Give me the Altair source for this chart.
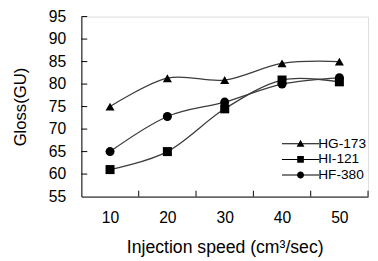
import altair as alt
import pandas as pd

speeds = [10, 20, 30, 40, 50]
series_names = ["HG-173", "HI-121", "HF-380"]
hg173 = [75, 81.3, 80.9, 84.6, 85]
hi121 = [61, 65, 74.5, 80.9, 80.5]
hf380 = [65, 72.8, 76, 80, 81.4]
y_ticks = [60, 65, 70, 75, 80, 85, 90, 95]
x_ticks = [15, 25, 35, 45, 55]

rows = []
for name, vals in zip(series_names, [hg173, hi121, hf380]):
    for s, v in zip(speeds, vals):
        rows.append({"speed": s, "gloss": v, "series": name, "legend": name})
df = pd.DataFrame(rows)

FONT = "Liberation Sans"
xscale = alt.Scale(domain=[5, 55], nice=False, zero=False)
yscale = alt.Scale(domain=[55, 95], nice=False, zero=False)

x_axis = alt.Axis(values=speeds, ticks=False, grid=False, domainColor="black",
                  labelFontSize=16, labelFont=FONT, labelColor="black", labelPadding=13,
                  labelOverlap=False,
                  title="Injection speed (cm³/sec)", titleFontSize=18, titleFont=FONT,
                  titleFontWeight="normal", titleColor="black", titlePadding=14)
y_axis = alt.Axis(values=[55] + y_ticks, ticks=False, grid=False, domainColor="black",
                  labelFontSize=16, labelFont=FONT, labelColor="black", labelPadding=16,
                  labelOverlap=False,
                  title="Gloss(GU)", titleFontSize=17, titleFont=FONT,
                  titleFontWeight="normal", titleColor="black", titlePadding=19)

lines = alt.Chart(df).mark_line(interpolate="cardinal", color="#3c3c3c", strokeWidth=1.3).encode(
    x=alt.X("speed:Q", scale=xscale, axis=x_axis),
    y=alt.Y("gloss:Q", scale=yscale, axis=y_axis),
    detail="series:N")

points = alt.Chart(df).mark_point(filled=True, color="black", opacity=1, size=85).encode(
    x=alt.X("speed:Q", scale=xscale, axis=x_axis),
    y=alt.Y("gloss:Q", scale=yscale, axis=y_axis),
    shape=alt.Shape("series:N", scale=alt.Scale(domain=series_names,
                                                range=["triangle-up", "square", "circle"]),
                    legend=None))

rect = "M-4.75,-0.13 L4.75,-0.13 L4.75,0.13 L-4.75,0.13 Z "
leg_paths = [
    rect + "M0,-1 L1,0.75 L-1,0.75 Z",
    rect + "M-0.85,-0.85 L0.85,-0.85 L0.85,0.85 L-0.85,0.85 Z",
    rect + "M-0.9,0 A0.9,0.9 0 1 1 0.9,0 A0.9,0.9 0 1 1 -0.9,0 Z",
]
legend_layer = alt.Chart(df).mark_point(filled=True, color="black", opacity=0, size=64).encode(
    x=alt.X("speed:Q", scale=xscale, axis=x_axis),
    y=alt.Y("gloss:Q", scale=yscale, axis=y_axis),
    shape=alt.Shape("legend:N", scale=alt.Scale(domain=series_names, range=leg_paths),
                    legend=alt.Legend(title=None, orient="none", legendX=217, legendY=123,
                                      symbolSize=64, symbolFillColor="black", symbolOpacity=1,
                                      labelFont=FONT, labelFontSize=14, labelColor="black",
                                      labelOffset=11, rowPadding=2)))

ytick_df = pd.DataFrame({"v": y_ticks})
ytick_layer = alt.Chart(ytick_df).mark_rule(color="black", strokeWidth=1).encode(
    y=alt.Y("v:Q", scale=yscale, axis=y_axis), x=alt.value(0), x2=alt.value(6))
xtick_df = pd.DataFrame({"v": x_ticks})
xtick_layer = alt.Chart(xtick_df).mark_rule(color="black", strokeWidth=1).encode(
    x=alt.X("v:Q", scale=xscale, axis=x_axis), y=alt.value(184), y2=alt.value(178))

chart = alt.layer(lines, points, legend_layer, ytick_layer, xtick_layer).resolve_scale(
    shape="independent"
).properties(
    width=293, height=184,
    autosize=alt.AutoSizeParams(type="none"),
    padding={"left": 75, "top": 6, "right": 2, "bottom": 60},
).configure_view(stroke=None).configure(background="white")

chart.save("out.html", embed_options={"renderer": "svg", "actions": False})
